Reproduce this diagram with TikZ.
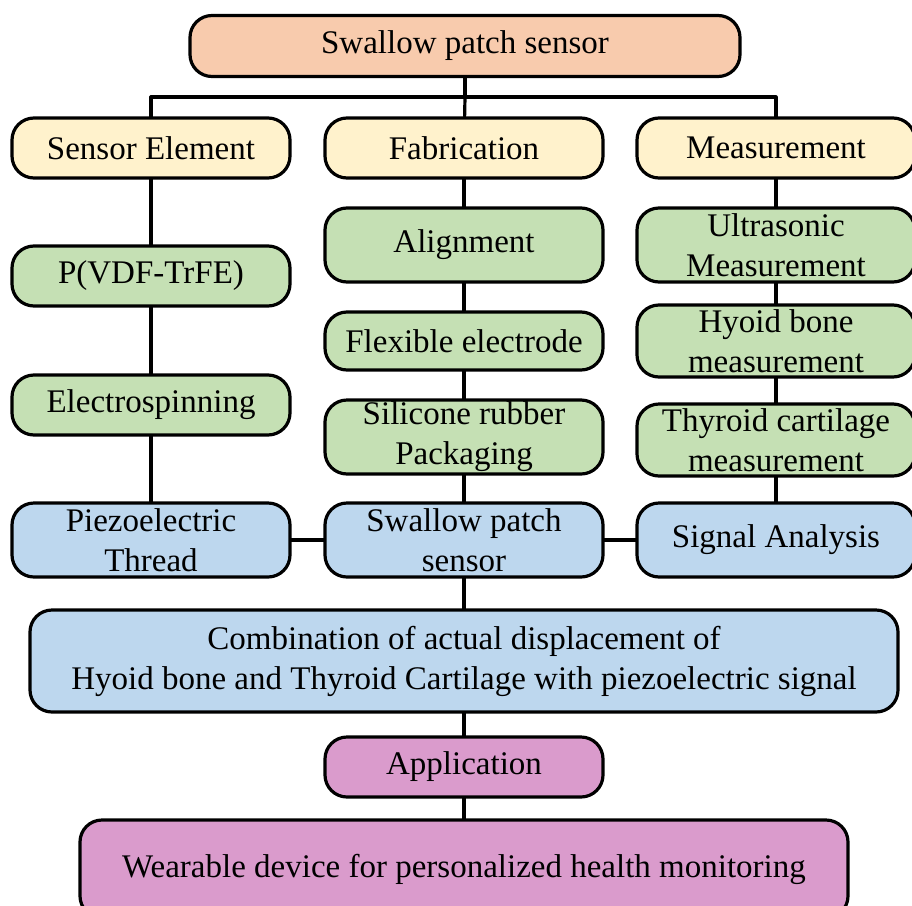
\documentclass[tikz,border=0pt]{standalone}
\usepackage{fontspec}
\setmainfont{Liberation Serif}
\definecolor{peach}{HTML}{F8CBAD}
\definecolor{cream}{HTML}{FFF2CC}
\definecolor{sage}{HTML}{C5E0B4}
\definecolor{sky}{HTML}{BDD7EE}
\definecolor{orchid}{HTML}{DA9BCC}
\begin{document}
\begin{tikzpicture}[x=1pt,y=-1pt,line join=round,line cap=round,line width=3.2pt,
	font=\fontsize{33}{40}\selectfont,
	box/.style={draw,rounded corners=22pt,inner sep=0pt,align=center,minimum width=278pt,minimum height=#1},
	box/.default=60pt]
	\useasboundingbox (0,0) rectangle (912,905);
	\node[box,fill=peach,minimum width=550pt,minimum height=61pt] (top) at (465,46) {Swallow patch sensor};
	\node[box,fill=cream] (elem) at (151,148) {Sensor Element};
	\node[box,fill=cream] (fab) at (464,148) {Fabrication};
	\node[box,fill=cream] (meas) at (776,148) {Measurement};
	\node[box,fill=sage] (pvdf) at (151,276) {P(VDF-TrFE)};
	\node[box,fill=sage] (spin) at (151,405) {Electrospinning};
	\node[box=74pt,fill=sky] (thread) at (151,540) {Piezoelectric\\Thread};
	\node[box=74pt,fill=sage] (align) at (464,245) {Alignment};
	\node[box=58pt,fill=sage] (flex) at (464,341) {Flexible electrode};
	\node[box=74pt,fill=sage] (pack) at (464,437) {Silicone rubber\\Packaging};
	\node[box=74pt,fill=sky] (patch) at (464,540) {Swallow patch\\sensor};
	\node[box=74pt,fill=sage] (ultra) at (776,245) {Ultrasonic\\Measurement};
	\node[box=72pt,fill=sage] (hyoid) at (776,341) {Hyoid bone\\measurement};
	\node[box=72pt,fill=sage] (thyroid) at (776,440) {Thyroid cartilage\\measurement};
	\node[box=74pt,fill=sky] (signal) at (776,540) {Signal Analysis};
	\node[box=102pt,fill=sky,minimum width=868pt] (comb) at (464,661) {Combination of actual displacement of\\Hyoid bone and Thyroid Cartilage with piezoelectric signal};
	\node[box,fill=orchid] (app) at (464,767) {Application};
	\node[box=98pt,fill=orchid,minimum width=768pt] (wear) at (464,869) {Wearable device for personalized health monitoring};
	\coordinate (bus) at (465,97);
	\draw (top) -- (bus);
	\draw (elem.north) |- (bus) -| (meas.north);
	\draw (bus) -- (fab);
	\foreach \a/\b in {elem/pvdf,pvdf/spin,spin/thread,fab/align,align/flex,flex/pack,pack/patch,meas/ultra,ultra/hyoid,hyoid/thyroid,thyroid/signal,patch/comb,comb/app,app/wear,thread/patch,patch/signal}
		\draw (\a) -- (\b);
\end{tikzpicture}
\end{document}
